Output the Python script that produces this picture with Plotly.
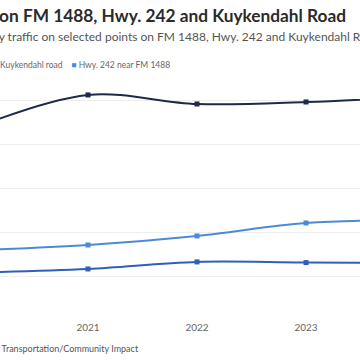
import plotly.graph_objects as go

years = [2020, 2021, 2022, 2023, 2024]
kuykendahl = [88000, 102300, 98200, 99100, 101500]
hwy242 = [31800, 34100, 38200, 44100, 45400]
fm1488 = [21600, 23200, 26400, 26100, 26000]

names = ["Kuykendahl Road near Louetta Road", "FM 1488 near Kuykendahl road", "Hwy. 242 near FM 1488"]
colors = ["#1d2a4a", "#2f5fb8", "#4d8ad6"]
series = [kuykendahl, fm1488, hwy242]

title = "Traffic on FM 1488, Hwy. 242 and Kuykendahl Road"
subtitle = "Daily traffic on selected points on FM 1488, Hwy. 242 and Kuykendahl Road"
source = "Source: Texas Department of Transportation/Community Impact"
tick_years = [2020, 2021, 2022, 2023, 2024]

fig = go.Figure()
for n, c, s in zip(names, colors, series):
    fig.add_trace(go.Scatter(
        x=years, y=s, name=n, mode="lines+markers",
        line=dict(color=c, width=2, shape="spline", smoothing=1),
        marker=dict(symbol="square", size=5, color=c),
        cliponaxis=True, showlegend=False,
    ))

W = 360.0
font = "Lato"
fig.update_layout(
    width=360, height=360,
    margin=dict(l=0, r=0, t=80, b=40),
    paper_bgcolor="white", plot_bgcolor="white",
    font=dict(family=font, color="#555555"),
    xaxis=dict(range=[2020.193, 2023.495], tickvals=tick_years, ticktext=[str(y) for y in tick_years],
               showgrid=False, zeroline=False, showline=False, ticks="",
               tickfont=dict(size=10, color="#666666")),
    yaxis=dict(range=[0, 109090], dtick=20000, showticklabels=False, showgrid=True,
               gridcolor="#eeeeee", gridwidth=1, zeroline=False, showline=False),
    annotations=[
        dict(text="<b>" + title + "</b>", xref="paper", yref="paper", x=348 / W, y=1 + (80 - 15) / 240,
             xanchor="right", yanchor="middle", showarrow=False,
             font=dict(size=17.3, color="#2b2b2b", family=font)),
        dict(text=subtitle, xref="paper", yref="paper", x=-24 / W, y=1 + (80 - 37) / 240,
             xanchor="left", yanchor="middle", showarrow=False,
             font=dict(size=12, color="#555555", family=font)),
        dict(text="".join(
            f'<span style="color:{c}">■</span> {n}    ' if i < 2 else f'<span style="color:{c}">■</span> {n}'
            for i, (n, c) in enumerate(zip(names, colors))),
             xref="paper", yref="paper", x=172 / W, y=1 + (80 - 65) / 240,
             xanchor="right", yanchor="middle", showarrow=False,
             font=dict(size=8.5, color="#666666", family=font)),
        dict(text=source, xref="paper", yref="paper", x=141 / W, y=-(348 - 320) / 240,
             xanchor="right", yanchor="middle", showarrow=False,
             font=dict(size=9, color="#555555", family=font)),
    ],
)
fig.write_html("out.html", config={"displayModeBar": False},
               post_script="document.body.style.margin='0';document.body.style.padding='0';")
